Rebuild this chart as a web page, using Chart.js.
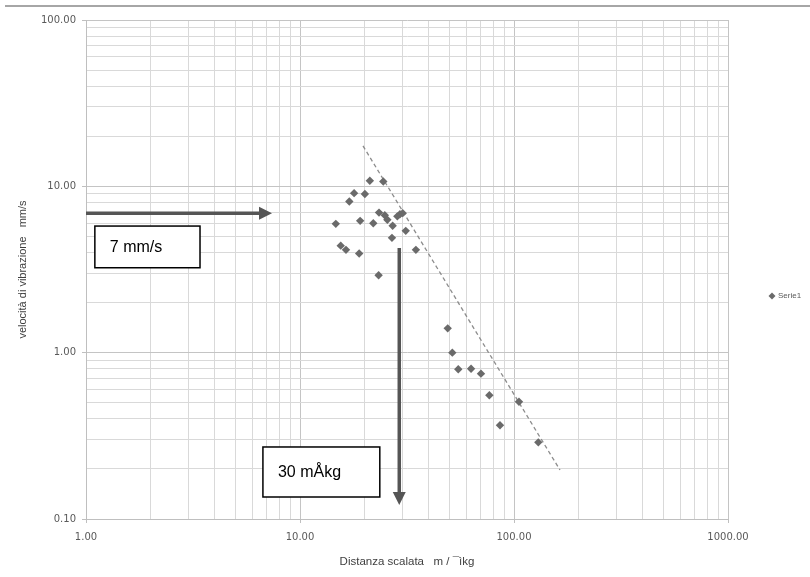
<!DOCTYPE html>
<html><head><meta charset="utf-8">
<script src="https://cdn.jsdelivr.net/npm/chart.js@4/dist/chart.umd.min.js"></script>
<style>html,body{margin:0;padding:0;background:#fff}#wrap{width:810px;height:577px}</style>
</head><body><div id="wrap"><canvas id="c" width="810" height="577"></canvas></div>
<script>
// Scaled distance (m/√kg)
const distances = [21.2, 24.5, 17.9, 20.1, 17.0, 23.4, 24.9, 25.6, 29.3, 30.2, 28.5, 14.7, 19.1, 22.0, 27.1, 31.2, 26.9, 15.5, 16.4, 18.9, 34.8, 23.3, 49.0, 51.5, 54.9, 63.0, 70.1, 76.7, 105.5, 86.0, 129.9];
// Vibration velocity (mm/s)
const velocities = [10.8, 10.7, 9.1, 9.0, 8.1, 6.95, 6.7, 6.3, 6.8, 6.9, 6.6, 5.95, 6.2, 6.0, 5.8, 5.4, 4.9, 4.4, 4.15, 3.95, 4.15, 2.92, 1.40, 1.00, 0.795, 0.80, 0.748, 0.555, 0.507, 0.366, 0.289];
// Dashed envelope line end points
const trendX = [19.7, 164];
const trendY = [17.5, 0.197];
// Axis tick labels (decades)
const xDecades = [1, 10, 100, 1000];
const yDecades = [0.1, 1, 10, 100];
const seriesName = "Serie1";
const xTitle = "Distanza scalata   m / \u00AF\u00ECkg";
const yTitle = "velocità di vibrazione   mm/s";
// Annotations (in data coordinates)
const hArrow = {y: 6.9, x0: 1, x1: 7.4};
const vArrow = {x: 29.1, y0: 4.26, y1: 0.1214};
const box1 = {x0: 1.10, x1: 3.41, y0: 5.77, y1: 3.24, text: "7 mm/s"};
const box2 = {x0: 6.71, x1: 23.6, y0: 0.271, y1: 0.1356, text: "30 m\u00C5kg"};

function allTicks(decs){
  const t=[];
  for(let i=0;i<decs.length;i++){
    const d=decs[i];
    if(i===decs.length-1){t.push(d);break;}
    for(let k=1;k<10;k++) t.push(+(d*k).toPrecision(6));
  }
  return t;
}
function isDecade(v){const l=Math.log10(v);return Math.abs(l-Math.round(l))<1e-6;}

const overlay = {
  id:'overlay',
  beforeDraw(chart){
    const ctx=chart.ctx;
    ctx.save();
    ctx.fillStyle='#fff';ctx.fillRect(0,0,chart.width,chart.height);
    ctx.strokeStyle='#a6a6a6';ctx.lineWidth=2;
    ctx.beginPath();ctx.moveTo(5,6);ctx.lineTo(chart.width,6);ctx.stroke();
    ctx.restore();
  },
  afterDatasetsDraw(chart){
    const ctx=chart.ctx, xs=chart.scales.x, ys=chart.scales.y;
    ctx.save();
    const col='#555555';
    ctx.strokeStyle=col;ctx.fillStyle=col;ctx.lineWidth=3.5;
    // horizontal arrow
    let y=ys.getPixelForValue(hArrow.y), xa=xs.getPixelForValue(hArrow.x0), xb=xs.getPixelForValue(hArrow.x1);
    ctx.beginPath();ctx.moveTo(xa,y);ctx.lineTo(xb-12,y);ctx.stroke();
    ctx.beginPath();ctx.moveTo(xb,y);ctx.lineTo(xb-13,y-6.5);ctx.lineTo(xb-13,y+6.5);ctx.closePath();ctx.fill();
    // vertical arrow
    let x=xs.getPixelForValue(vArrow.x), ya=ys.getPixelForValue(vArrow.y0), yb=ys.getPixelForValue(vArrow.y1);
    ctx.beginPath();ctx.moveTo(x,ya);ctx.lineTo(x,yb-11);ctx.stroke();
    ctx.beginPath();ctx.moveTo(x,yb);ctx.lineTo(x-6.5,yb-13);ctx.lineTo(x+6.5,yb-13);ctx.closePath();ctx.fill();
    // boxes
    [[box1,16],[box2,16]].forEach(([b,fs])=>{
      const l=xs.getPixelForValue(b.x0), r=xs.getPixelForValue(b.x1), t=ys.getPixelForValue(b.y0), bt=ys.getPixelForValue(b.y1);
      ctx.fillStyle='#fff';ctx.fillRect(l,t,r-l,bt-t);
      ctx.strokeStyle='#000';ctx.lineWidth=1.5;ctx.strokeRect(l,t,r-l,bt-t);
      ctx.fillStyle='#000';ctx.font=fs+'px "Liberation Sans", Arial, sans-serif';
      ctx.textBaseline='middle';ctx.textAlign='left';
      ctx.fillText(b.text,l+15,(t+bt)/2+1);
    });
    // legend
    const lx=772, ly=296;
    ctx.fillStyle='#6a6a6a';
    ctx.beginPath();ctx.moveTo(lx,ly-3.5);ctx.lineTo(lx+3.5,ly);ctx.lineTo(lx,ly+3.5);ctx.lineTo(lx-3.5,ly);ctx.closePath();ctx.fill();
    ctx.fillStyle='#595959';ctx.font='8px "Liberation Sans", Arial, sans-serif';
    ctx.textAlign='left';ctx.textBaseline='middle';
    ctx.fillText(seriesName,lx+6,ly);
    ctx.restore();
  }
};

const tickFont={family:'"DejaVu Sans", sans-serif',size:10};
new Chart(document.getElementById('c'),{
  type:'scatter',
  data:{datasets:[
    {label:seriesName,data:distances.map((d,i)=>({x:d,y:velocities[i]})),pointStyle:'rectRot',pointRadius:4.2,pointHoverRadius:4.2,backgroundColor:'#6a6a6a',borderColor:'#6a6a6a',borderWidth:0},
    {label:'trend',data:trendX.map((d,i)=>({x:d,y:trendY[i]})),showLine:true,borderColor:'#8c8c8c',borderWidth:1.3,borderDash:[4,3],pointRadius:0,fill:false}
  ]},
  options:{
    responsive:false,animation:false,
    layout:{padding:{top:20,right:82,left:0,bottom:0}},
    plugins:{legend:{display:false},tooltip:{enabled:false}},
    scales:{
      x:{type:'logarithmic',min:1,max:1000,
        afterBuildTicks(s){s.ticks=allTicks(xDecades).map(v=>({value:v}));},
        afterFit(s){s.height=58;},
        ticks:{autoSkip:false,maxRotation:0,padding:8,color:'#595959',font:tickFont,callback:(v)=>isDecade(v)?Number(v).toFixed(2):''},
        grid:{color:(c)=>isDecade(c.tick.value)?'#c4c4c4':'#d9d9d9',lineWidth:1,tickLength:4,tickColor:(c)=>isDecade(c.tick.value)?'#bfbfbf':'rgba(0,0,0,0)'},
        border:{color:'#bfbfbf'},
        title:{display:true,text:xTitle,color:'#404040',font:{family:'"Liberation Sans", Arial, sans-serif',size:11.5},padding:{top:0,bottom:8}}
      },
      y:{type:'logarithmic',min:0.1,max:100,
        afterBuildTicks(s){s.ticks=allTicks(yDecades).map(v=>({value:v}));},
        afterFit(s){s.width=86;},
        ticks:{autoSkip:false,padding:6,color:'#595959',font:tickFont,callback:(v)=>isDecade(v)?Number(v).toFixed(2):''},
        grid:{color:(c)=>isDecade(c.tick.value)?'#c4c4c4':'#d9d9d9',lineWidth:1,tickLength:4,tickColor:(c)=>isDecade(c.tick.value)?'#bfbfbf':'rgba(0,0,0,0)'},
        border:{color:'#bfbfbf'},
        title:{display:true,text:yTitle,color:'#404040',font:{family:'"Liberation Sans", Arial, sans-serif',size:11},padding:{top:16,bottom:0}}
      }
    }
  },
  plugins:[overlay]
});
</script></body></html>
